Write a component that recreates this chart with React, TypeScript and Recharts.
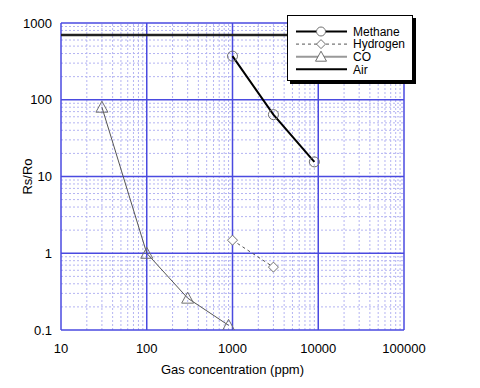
import React from 'react';
import { LineChart, Line, XAxis, YAxis, ReferenceLine, Label } from 'recharts';

// values (log-log)
const xTicks = [10, 100, 1000, 10000, 100000];
const yTicks = [0.1, 1, 10, 100, 1000];
const methane = [
  { x: 1000, y: 370 },
  { x: 3000, y: 64 },
  { x: 9000, y: 15.5 },
];
const hydrogen = [
  { x: 1000, y: 1.48 },
  { x: 3000, y: 0.66 },
];
const co = [
  { x: 30, y: 80 },
  { x: 100, y: 1 },
  { x: 300, y: 0.26 },
  { x: 900, y: 0.115 },
];
const air = [
  { x: 10, y: 700 },
  { x: 100000, y: 700 },
];
const legendNames = ['Methane', 'Hydrogen', 'CO', 'Air'];

const FONT = '"Liberation Sans", Arial, sans-serif';
const MAJOR = '#4a4ae0';
const MINOR = '#b4b4f2';
const MARK = '#707070';

// minor grid values: 2..9 in every decade
const minorOf = (ticks: number[]) => {
  const out: number[] = [];
  for (let i = 0; i < ticks.length - 1; i++) {
    for (let m = 2; m <= 9; m++) out.push(+(ticks[i] * m).toPrecision(3));
  }
  return out;
};
const xMinor = minorOf(xTicks);
const yMinor = minorOf(yTicks);

const circleDot = (p: any) =>
  p.cx == null ? <g key={p.key} /> : (
    <circle key={p.key} cx={p.cx} cy={p.cy} r={5} fill="none" stroke={MARK} strokeWidth={1} />
  );
const diamondDot = (p: any) =>
  p.cx == null ? <g key={p.key} /> : (
    <path key={p.key} d={`M${p.cx},${p.cy - 5}L${p.cx + 5},${p.cy}L${p.cx},${p.cy + 5}L${p.cx - 5},${p.cy}Z`}
      fill="white" stroke={MARK} strokeWidth={1} />
  );
const triDot = (p: any) =>
  p.cx == null ? <g key={p.key} /> : (
    <path key={p.key} d={`M${p.cx},${p.cy - 6}L${p.cx + 6},${p.cy + 5}L${p.cx - 6},${p.cy + 5}Z`}
      fill="none" stroke={MARK} strokeWidth={1} />
  );

const LegendBox = () => {
  const styles = [
    { color: '#000', w: 2, dash: undefined, mark: 'c' },
    { color: '#555', w: 1, dash: '3 3', mark: 'd' },
    { color: '#999', w: 2, dash: undefined, mark: 't' },
    { color: '#000', w: 2, dash: undefined, mark: '' },
  ];
  return (
    <svg width={132} height={72} style={{ display: 'block' }}>
      <rect x={3} y={3} width={126} height={66} fill="#000" />
      <rect x={0.5} y={0.5} width={125} height={65} fill="#fff" stroke="#000" />
      {legendNames.map((name, i) => {
        const r = styles[i];
        const y = 16.5 + i * 12.6;
        return (
          <g key={name}>
            <line x1={9} x2={60} y1={y} y2={y} stroke={r.color} strokeWidth={r.w} strokeDasharray={r.dash} />
            {r.mark === 'c' && <circle cx={34} cy={y} r={4.5} fill="#fff" stroke={MARK} />}
            {r.mark === 'd' && <path d={`M34,${y - 4.5}L38.5,${y}L34,${y + 4.5}L29.5,${y}Z`} fill="#fff" stroke={MARK} />}
            {r.mark === 't' && <path d={`M34,${y - 5.5}L39.5,${y + 4.5}L28.5,${y + 4.5}Z`} fill="#fff" stroke={MARK} />}
            <text x={66} y={y + 4.3} fontSize={12} fontFamily={FONT} fill="#000">{name}</text>
          </g>
        );
      })}
    </svg>
  );
};

export default function App() {
  return (
    <div style={{ position: 'absolute', left: 0, top: 0, width: 480, height: 388, background: '#fff' }}>
      <LineChart width={480} height={388} margin={{ top: 23, right: 76, bottom: 8, left: 0 }}>
        <XAxis
          type="number"
          dataKey="x"
          scale="log"
          domain={[10, 100000]}
          allowDataOverflow
          ticks={xTicks}
          tickFormatter={(v: number) => String(v)}
          tick={{ fontSize: 13, fontFamily: FONT, fill: '#000' }}
          tickLine={false}
          tickSize={0}
          tickMargin={14}
          axisLine={false}
          height={50}
        >
          <Label value="Gas concentration (ppm)" position="insideBottom" offset={6}
            style={{ fontSize: 13, fontFamily: FONT, fill: '#000' }} />
        </XAxis>
        <YAxis
          type="number"
          dataKey="y"
          scale="log"
          domain={[0.1, 1000]}
          allowDataOverflow
          ticks={yTicks}
          tickFormatter={(v: number) => String(v)}
          tick={{ fontSize: 13, fontFamily: FONT, fill: '#000' }}
          tickLine={false}
          tickSize={0}
          tickMargin={9}
          axisLine={false}
          width={61}
        >
          <Label value="Rs/Ro" angle={-90} position="center" dx={-3}
            style={{ fontSize: 13, fontFamily: FONT, fill: '#000' }} />
        </YAxis>

        {xMinor.map((v) => (
          <ReferenceLine key={'xm' + v} x={v} stroke={MINOR} strokeDasharray="2 2" strokeWidth={1} />
        ))}
        {yMinor.map((v) => (
          <ReferenceLine key={'ym' + v} y={v} stroke={MINOR} strokeDasharray="2 2" strokeWidth={1} />
        ))}
        {xTicks.map((v) => (
          <ReferenceLine key={'xM' + v} x={v} stroke={MAJOR} strokeWidth={1.5} />
        ))}
        {yTicks.map((v) => (
          <ReferenceLine key={'yM' + v} y={v} stroke={MAJOR} strokeWidth={1.5} />
        ))}

        <Line data={air} dataKey="y" name="Air" stroke="#222" strokeWidth={2.5} dot={false} isAnimationActive={false} />
        <Line data={co} dataKey="y" name="CO" stroke="#555" strokeWidth={1} dot={triDot} isAnimationActive={false} />
        <Line data={hydrogen} dataKey="y" name="Hydrogen" stroke="#555" strokeWidth={1} strokeDasharray="3 3" dot={diamondDot} isAnimationActive={false} />
        <Line data={methane} dataKey="y" name="Methane" stroke="#000" strokeWidth={2} dot={circleDot} isAnimationActive={false} />
      </LineChart>
      <div style={{ position: 'absolute', left: 287, top: 15 }}>
        <LegendBox />
      </div>
    </div>
  );
}
